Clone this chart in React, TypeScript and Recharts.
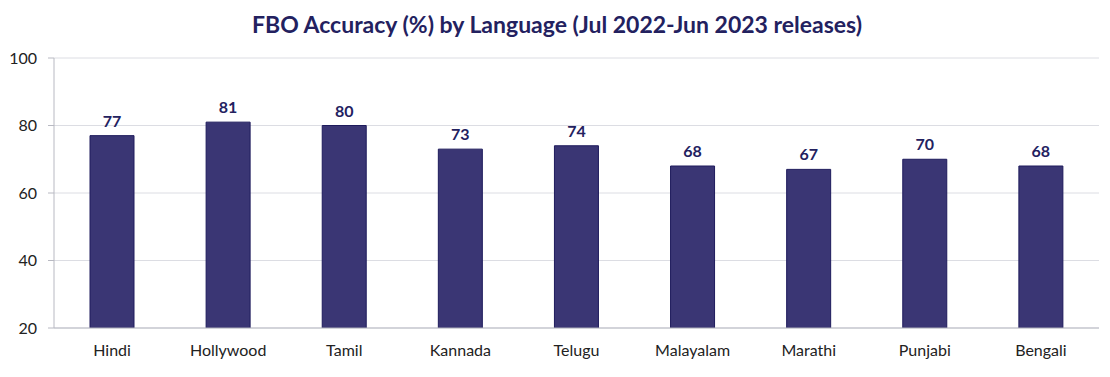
import { Bar, BarChart, CartesianGrid, LabelList, XAxis, YAxis } from "recharts"

const languages = ["Hindi", "Hollywood", "Tamil", "Kannada", "Telugu", "Malayalam", "Marathi", "Punjabi", "Bengali"]
const accuracy = [77, 81, 80, 73, 74, 68, 67, 70, 68]
const yTicks = [20, 40, 60, 80, 100]

const chartData = languages.map((name, i) => ({ name, accuracy: accuracy[i] }))

const FONT = "Lato, 'Open Sans', sans-serif"

export default function App() {
  return (
    <div style={{ position: "absolute", left: 0, top: 0, width: 1110, height: 377, background: "#fff", fontFamily: FONT }}>
      <div
        style={{
          position: "absolute",
          top: 9,
          left: 2,
          width: 1110,
          textAlign: "center",
          fontSize: 23,
          fontWeight: 700,
          color: "#23215f",
          lineHeight: "30px",
        }}
      >
        FBO Accuracy (%) by Language (Jul 2022-Jun 2023 releases)
      </div>
      <BarChart width={1110} height={377} data={chartData} margin={{ top: 58, right: 11, left: 0, bottom: 19 }}>
        <CartesianGrid vertical={false} stroke="#dcdde3" />
        <XAxis
          dataKey="name"
          height={30}
          tickLine={false}
          axisLine={{ stroke: "#b8b9c2" }}
          tickMargin={11}
          tick={{ fontSize: 16, fill: "#222", fontFamily: FONT }}
        />
        <YAxis
          width={54}
          domain={[20, 100]}
          ticks={yTicks}
          allowDataOverflow
          axisLine={{ stroke: "#b8b9c2" }}
          tickLine={{ stroke: "#b8b9c2" }}
          tickSize={6}
          tickMargin={11}
          tick={{ fontSize: 16, fill: "#222", fontFamily: FONT }}
        />
        <Bar dataKey="accuracy" fill="#3a3674" stroke="#1e1b5c" strokeWidth={1} barSize={44} isAnimationActive={false}>
          <LabelList dataKey="accuracy" position="top" offset={9} style={{ fontSize: 16, fontWeight: 700, fill: "#23215f", fontFamily: FONT }} />
        </Bar>
      </BarChart>
    </div>
  )
}
